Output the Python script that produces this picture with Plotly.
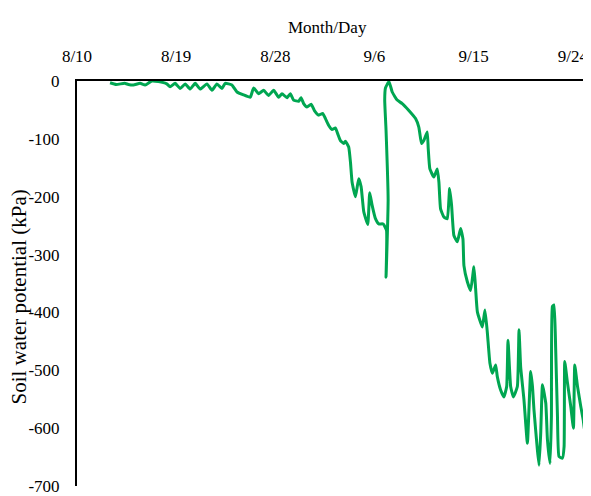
import plotly.graph_objects as go

# Days since 8/10 and soil water potential (kPa)
days = [3.0, 3.56, 4.32, 4.66, 5.12, 5.73, 6.18, 6.79, 7.39, 8.15, 8.45, 8.91, 9.36, 9.82,
        10.27, 10.73, 11.18, 11.79, 12.25, 12.70, 13.15, 13.45, 14.06, 14.52, 15.12, 15.73,
        16.03, 16.48, 16.94, 17.39, 17.85, 18.30, 18.61, 19.06, 19.36, 19.66, 20.12, 20.34,
        20.57, 20.88, 21.25, 21.55, 21.94, 22.30, 22.55, 22.85, 23.15, 23.45, 23.66, 23.91,
        24.21, 24.36, 24.66, 24.82, 24.97, 25.27, 25.57, 25.79, 26.03, 26.39, 26.57, 26.79,
        27.09, 27.39, 27.79, 28.09, 28.05, 28.24, 28.05, 27.93, 28.0, 28.32,
        28.61, 29.06, 29.52, 30.12, 30.73, 31.03, 31.27, 31.48, 31.79, 31.88, 32.03, 32.39,
        32.70, 32.85, 33.0, 33.30, 33.61, 33.82, 34.0, 34.21, 34.52, 34.82, 35.03, 35.12,
        35.43, 35.73, 36.03, 36.18, 36.34, 36.79, 37.03, 37.25, 37.48, 37.70, 38.0, 38.15,
        38.45, 38.75, 39.0, 39.12, 39.36, 39.61, 39.97, 40.12, 40.27, 40.57, 40.88, 41.18,
        41.34, 41.48, 41.79, 41.94, 42.09, 42.25, 42.55, 42.70, 42.94, 43.06, 43.15, 43.30,
        43.45, 43.61, 43.75, 44.06, 44.21, 44.27, 44.52, 44.82, 45.06, 45.18, 45.43, 45.73,
        45.95, 46.08, 46.15]
potential = [-3, -6, -4, -6, -7, -4, -7, 0, -1, -5, -10, -4, -13, -5,
             -14, -4, -14, -5, -16, -5, -13, -4, -7, -19, -24, -28,
             -12, -22, -16, -25, -16, -28, -22, -29, -22, -33, -35, -29,
             -39, -45, -40, -51, -59, -56, -65, -77, -84, -81, -91, -103,
             -108, -104, -114, -140, -175, -200, -169, -183, -226, -248, -193, -215,
             -238, -247, -247, -258, -339, -206, -85, -33, -12, -1,
             -19, -33, -39, -51, -65, -80, -108, -103, -88, -117, -152, -166,
             -152, -175, -221, -235, -238, -186, -215, -267, -278, -255, -273, -319,
             -347, -362, -321, -359, -399, -425, -396, -436, -488, -505, -491, -511,
             -534, -546, -528, -448, -528, -546, -528, -430, -494, -551, -626, -502,
             -528, -569, -638, -664, -609, -525, -557, -620, -661, -580, -390, -387,
             -465, -580, -649, -652, -632, -485, -522, -563, -600, -491, -528, -563,
             -586, -606, -585]

tick_days = [0, 9, 18, 27, 36, 45]
tick_labels = ["8/10", "8/19", "8/28", "9/6", "9/15", "9/24"]
y_ticks = [0, -100, -200, -300, -400, -500, -600, -700]
y_labels = ["0", "-100", "-200", "-300", "-400", "-500", "-600", "-700"]

FONT = "Liberation Serif"

fig = go.Figure()
fig.add_trace(go.Scatter(x=days, y=potential, mode="lines",
                         line=dict(color="#00A651", width=3, shape="spline", smoothing=0.4),
                         showlegend=False, hoverinfo="skip"))

# The page body has an 8px margin, so the figure is drawn 8px in from the top-left.
fig.update_layout(
    width=583, height=488,
    margin=dict(l=69, r=5, t=73, b=10, autoexpand=False),
    paper_bgcolor="white", plot_bgcolor="white",
    font=dict(family=FONT, size=17, color="black"),
    xaxis=dict(range=[0, 46.2], side="top", tickvals=tick_days, ticktext=tick_labels,
               showgrid=False, zeroline=False, showline=True, linecolor="black",
               linewidth=2, ticks="", ticklabelstandoff=10, automargin=False,
               tickfont=dict(family=FONT, size=17, color="black")),
    yaxis=dict(range=[-700, 0], tickvals=y_ticks, ticktext=y_labels,
               showgrid=False, zeroline=False, showline=True, linecolor="black",
               linewidth=2, ticks="", ticklabelstandoff=12, automargin=False,
               tickfont=dict(family=FONT, size=17, color="black")),
    annotations=[
        dict(text="Month/Day", xref="paper", yref="paper", x=0.5, y=1,
             xshift=-4, yshift=54, showarrow=False, xanchor="center", yanchor="middle",
             font=dict(family=FONT, size=17, color="black")),
        dict(text="Soil water potential (kPa)", xref="paper", yref="paper", x=0, y=0.5,
             xshift=-59, yshift=-14, showarrow=False, textangle=-90,
             xanchor="center", yanchor="middle",
             font=dict(family=FONT, size=21, color="black")),
    ],
)

fig.write_html("out.html")
